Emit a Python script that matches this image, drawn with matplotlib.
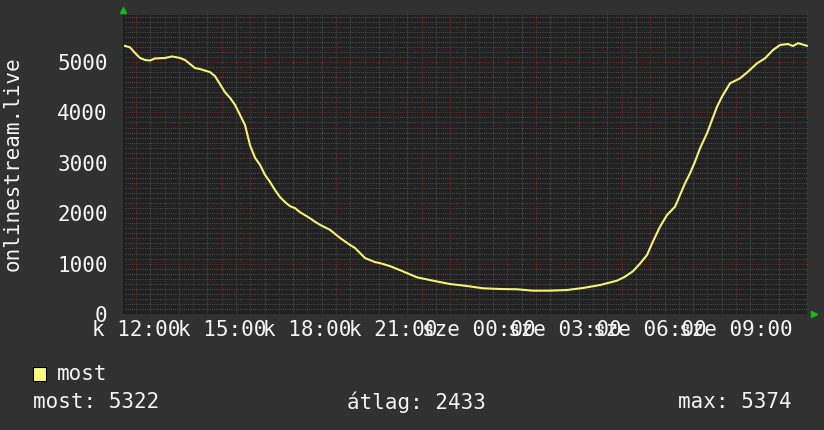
import numpy as np
import matplotlib
matplotlib.use('Agg')
import matplotlib.pyplot as plt
from matplotlib.transforms import blended_transform_factory

# hours since Tuesday 12:00 and viewer count (onlinestream.live)
hours = [-0.385, -0.21, -0.035, 0.14, 0.315, 0.49, 0.665, 1.015, 1.26, 1.54,
         1.715, 1.89, 2.065, 2.24, 2.59, 2.765, 2.94, 3.115, 3.29, 3.465,
         3.64, 3.815, 3.99, 4.165, 4.34, 4.515, 4.69, 4.865, 5.04, 5.215,
         5.39, 5.565, 5.74, 5.915, 6.09, 6.265, 6.44, 6.79, 7.14, 7.49,
         7.665, 7.84, 8.015, 8.19, 8.365, 8.54, 8.89, 9.24, 9.835, 10.395,
         10.99, 11.585, 12.145, 12.74, 13.335, 13.895, 14.49, 15.085, 15.645, 16.24,
         16.835, 17.115, 17.395, 17.64, 17.885, 18.095, 18.34, 18.585, 18.865, 19.04,
         19.215, 19.39, 19.565, 19.74, 19.985, 20.16, 20.335, 20.51, 20.79, 21.14,
         21.42, 21.735, 22.015, 22.295, 22.54, 22.82, 22.995, 23.17, 23.485]
most = [5320, 5290, 5180, 5080, 5040, 5030, 5070, 5080, 5110, 5080,
        5040, 4960, 4880, 4860, 4800, 4720, 4560, 4400, 4290, 4150,
        3950, 3750, 3350, 3100, 2960, 2760, 2620, 2460, 2320, 2220,
        2140, 2100, 2020, 1960, 1900, 1830, 1770, 1670, 1510, 1370,
        1310, 1210, 1110, 1070, 1030, 1010, 950, 870, 728, 661,
        595, 556, 510, 496, 490, 463, 463, 476, 516, 575,
        661, 740, 850, 1000, 1170, 1440, 1732, 1964, 2129, 2361,
        2593, 2791, 3022, 3287, 3585, 3849, 4113, 4312, 4577, 4676,
        4808, 4974, 5073, 5238, 5337, 5357, 5317, 5374, 5322]

label_hours = [0, 3, 6, 9, 12, 15, 18, 21]
label_text = ['k 12:00', 'k 15:00', 'k 18:00', 'k 21:00',
              'sze 00:00', 'sze 03:00', 'sze 06:00', 'sze 09:00']
yticks = [0, 1000, 2000, 3000, 4000, 5000]
stats = ['most: 5322', 'átlag: 2433', 'max: 5374']

W, H = 824, 430
BG = '#313131'
CANVAS = '#212121'
FONT = 'DejaVu Sans Mono'
FS = 15

plt.rcParams['font.family'] = [FONT, 'DejaVu Sans']

fig = plt.figure(figsize=(W / 100, H / 100), dpi=100, facecolor=BG)


def fx(x):
    return x / W


def fy(y):
    return 1 - y / H


L, R, T, B = 123, 808, 15, 314
ax = fig.add_axes([fx(L), fy(B), (R - L) / W, (B - T) / H])
ax.set_facecolor(CANVAS)
ax.set_xlim(-0.455, 23.52)
ax.set_ylim(0, (B - T) / 50.4 * 1000)

# grid: minor gray, major dark red, dotted
dot = (0, (0.72, 1.44))
for h in np.arange(-0.5, 24, 0.5):
    if h == int(h):
        continue
    ax.axvline(h, color='#5a5a5a', lw=0.72, ls=dot, zorder=1)
for v in range(100, 6000, 100):
    if v % 1000:
        ax.axhline(v, color='#5a5a5a', lw=0.72, ls=dot, zorder=1)
for h in range(0, 24):
    ax.axvline(h, color='#7a3232', lw=0.72, ls=dot, zorder=1.5)
for v in yticks[1:]:
    ax.axhline(v, color='#7a3232', lw=0.72, ls=dot, zorder=1.5)

ax.plot(hours, most, color='#f6f36e', lw=1.5, zorder=3)

ax.set_xticks([])
ax.set_yticks(yticks)
ax.set_yticklabels([str(v) for v in yticks])
ax.tick_params(axis='y', length=0, pad=11, labelsize=FS, labelcolor='#f4f4f4')
for s in ax.spines.values():
    s.set_visible(False)
ax.axhline(0, color='#1a1a1a', lw=1, zorder=2)
ax.axvline(-0.455, color='#1a1a1a', lw=1, zorder=2)

# arrows
fig.add_artist(plt.Line2D([fx(L)], [fy(10)], marker='^', color='#10c010',
                          markersize=5, transform=fig.transFigure))
fig.add_artist(plt.Line2D([fx(814)], [fy(B)], marker='>', color='#10c010',
                          markersize=5, transform=fig.transFigure))

# x labels
tr = blended_transform_factory(ax.transData, fig.transFigure)
for h, t in zip(label_hours, label_text):
    ax.text(h, fy(330), t, transform=tr, ha='center', va='center',
            fontsize=FS, color='#f4f4f4', clip_on=False)

fig.text(fx(13), fy(164), 'onlinestream.live', rotation=90, ha='center',
         va='center', fontsize=FS, color='#f4f4f4')

# legend
fig.add_artist(plt.Rectangle((fx(33), fy(381)), 13 / W, 14 / H,
                             facecolor='#fdfb7c', edgecolor='black', lw=0.8,
                             transform=fig.transFigure))
fig.text(fx(57), fy(374), 'most', ha='left', va='center', fontsize=FS,
         color='#f4f4f4')
fig.text(fx(33), fy(402), stats[0], ha='left', va='center', fontsize=FS,
         color='#f4f4f4')
fig.text(fx(347), fy(402), stats[1], ha='left', va='center', fontsize=FS,
         color='#f4f4f4')
fig.text(fx(792), fy(402), stats[2], ha='right', va='center', fontsize=FS,
         color='#f4f4f4')

fig.savefig('out.png', dpi=100, facecolor=BG)
